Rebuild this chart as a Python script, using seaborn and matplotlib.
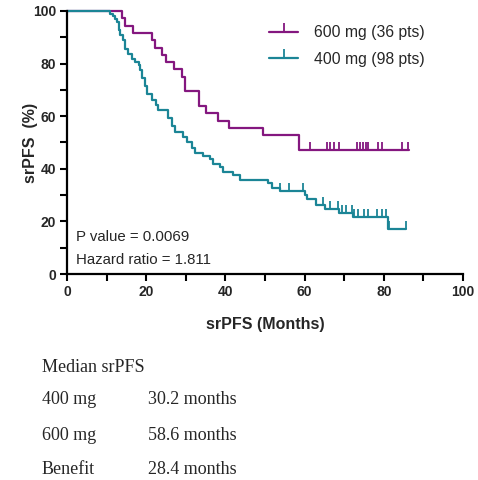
import numpy as np
import pandas as pd
import matplotlib
matplotlib.use('Agg')
import matplotlib.pyplot as plt
from matplotlib.lines import Line2D
from matplotlib.ticker import MultipleLocator
import seaborn as sns

# Kaplan-Meier step data (time in months, srPFS in %)
t_600 = [0, 13.9, 14.6, 16.7, 21.4, 22.2, 23.9, 25.0, 27.0, 29.0, 29.8,
         33.3, 35.1, 38.2, 40.9, 49.5, 58.7, 86.3]
s_600 = [100, 97.2, 94.4, 91.7, 88.9, 86.1, 83.3, 80.6, 77.8, 75.0, 69.4,
         63.9, 61.1, 58.3, 55.6, 52.8, 47.2, 47.2]
cens_600 = [61.4, 65.6, 66.4, 67.3, 68.8, 73.2, 74.0, 74.7, 75.4, 76.1,
            78.6, 79.5, 84.5, 86.0]

t_400 = [0, 10.9, 11.7, 12.1, 12.5, 13.2, 13.4, 14.2, 14.6, 15.5, 16.3,
         17.2, 18.2, 18.4, 18.9, 19.7, 20.3, 21.4, 22.6, 23.1, 25.6, 26.4,
         27.3, 29.4, 30.2, 31.5, 32.3, 34.4, 36.1, 36.9, 38.6, 39.5, 42.0,
         43.7, 50.8, 51.7, 53.8, 60.1, 60.5, 63.0, 65.2, 68.8, 72.2, 81.0, 85.6]
s_400 = [100, 99.0, 98.0, 96.9, 95.9, 92.9, 90.8, 88.8, 85.7, 83.7, 81.6,
         80.6, 79.6, 77.6, 74.5, 71.4, 68.4, 66.3, 64.3, 62.2, 59.2, 56.1,
         54.1, 52.0, 50.0, 48.0, 45.9, 44.9, 43.9, 41.8, 40.8, 38.8, 37.8,
         35.7, 34.7, 32.7, 31.4, 30.0, 28.4, 26.2, 24.6, 23.1, 21.6, 17.2, 17.2]
cens_400 = [53.8, 56.1, 59.7, 64.7, 66.4, 68.5, 69.5, 70.5, 71.9, 72.5,
            73.5, 75.0, 76.0, 78.3, 79.5, 80.5, 81.3, 85.6]

groups = ['600 mg (36 pts)', '400 mg (98 pts)']
colors = ['#84177F', '#1B8596']

median_rows = [('400 mg', '30.2 months'), ('600 mg', '58.6 months'),
               ('Benefit', '28.4 months')]

df = pd.concat([
    pd.DataFrame({'time': t_600, 'surv': s_600, 'group': groups[0]}),
    pd.DataFrame({'time': t_400, 'surv': s_400, 'group': groups[1]}),
])


def level_at(times, surv, x):
    idx = np.searchsorted(times, x, side='right') - 1
    return np.asarray(surv)[idx]


sns.set_style('ticks')
plt.rcParams['font.family'] = ['Liberation Sans', 'DejaVu Sans']

fig = plt.figure(figsize=(4.78, 4.8), dpi=100)
ax = fig.add_axes([67 / 478, 1 - 274 / 480, 396 / 478, 263 / 480])

sns.lineplot(data=df, x='time', y='surv', hue='group', hue_order=groups,
             palette=colors, drawstyle='steps-post', linewidth=1.6,
             estimator=None, sort=False, legend=False, ax=ax, clip_on=False)

for tt, ss, cc, col in [(t_600, s_600, cens_600, colors[0]),
                        (t_400, s_400, cens_400, colors[1])]:
    ax.plot(cc, level_at(tt, ss, cc), linestyle='none', marker=2,
            markersize=5.5, markeredgewidth=1.3, color=col, clip_on=False)

ax.set_xlim(0, 100)
ax.set_ylim(0, 100)
ax.xaxis.set_major_locator(MultipleLocator(20))
ax.xaxis.set_minor_locator(MultipleLocator(10))
ax.yaxis.set_major_locator(MultipleLocator(20))
ax.yaxis.set_minor_locator(MultipleLocator(10))
ax.tick_params(which='both', direction='out', length=5, width=1.5,
               color='black')
ax.tick_params(which='major', labelsize=10, pad=3)
for lab in ax.get_xticklabels() + ax.get_yticklabels():
    lab.set_fontweight('bold')
for side in ['top', 'right']:
    ax.spines[side].set_visible(False)
for side in ['left', 'bottom']:
    ax.spines[side].set_linewidth(1.6)
    ax.spines[side].set_color('black')

ax.set_xlabel('srPFS (Months)', fontsize=11.5, fontweight='bold')
ax.set_ylabel('srPFS  (%)', fontsize=11.5, fontweight='bold')
ax.xaxis.set_label_coords(0.5, -0.165)
ax.yaxis.set_label_coords(-0.072, 0.5)

ax.text(0.023, 0.14, 'P value = 0.0069', transform=ax.transAxes,
        fontsize=10.8, va='center')
ax.text(0.023, 0.054, 'Hazard ratio = 1.811', transform=ax.transAxes,
        fontsize=10.8, va='center')

handles = [Line2D([], [], color=c, linewidth=1.6, marker=2, markersize=6.5,
                  markeredgewidth=1.3)
           for c in colors]
fig.legend(handles, groups, loc='upper left',
           bbox_to_anchor=(269 / 478, 1 - 25 / 480), frameon=False,
           fontsize=11.3, handlelength=1.85, handletextpad=1.0,
           labelspacing=0.76, borderpad=0, borderaxespad=0)

serif = ['Liberation Serif', 'DejaVu Serif']
fig.text(42 / 478, 1 - 367 / 480, 'Median srPFS', family=serif,
         fontsize=13, va='center')
for i, (name, val) in enumerate(median_rows):
    y = 1 - (400 + 35 * i) / 480
    fig.text(42 / 478, y, name, family=serif, fontsize=13, va='center')
    fig.text(148 / 478, y, val, family=serif, fontsize=13, va='center')

fig.savefig('out.png', dpi=100)
